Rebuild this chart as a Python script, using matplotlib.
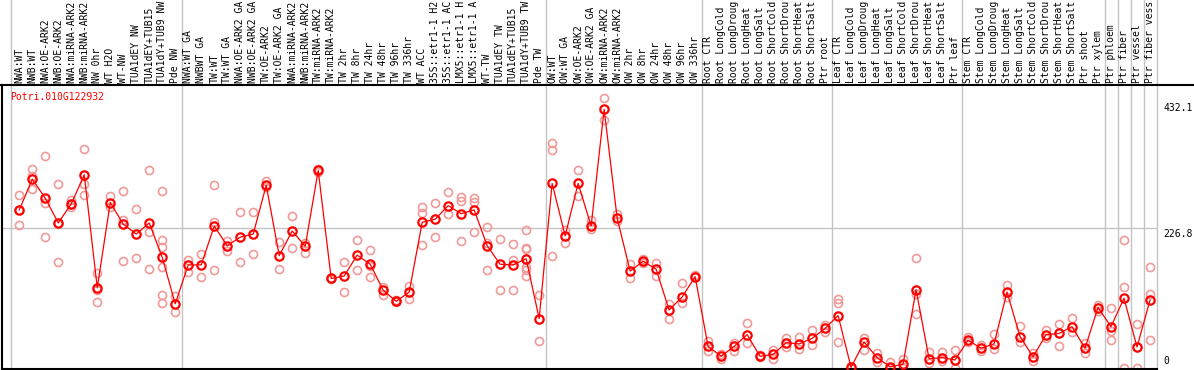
import numpy as np
import matplotlib
matplotlib.use('Agg')
import matplotlib.pyplot as plt
from matplotlib.lines import Line2D

gene = "Potri.010G122932"

labels = [
    "NWA:WT", "NWB:WT", "NWA:OE-ARK2", "NWB:OE-ARK2", "NWA:miRNA-ARK2", "NWB:miRNA-ARK2",
    "NW 0hr", "WT H2O", "WT-NW", "TUA1dEY NW", "TUA1dEY+TUB15", "TUA1dY+TUB9 NW", "Pde NW",
    "NWA:WT GA", "NWBWT GA", "TW:WT", "TW:WT GA", "NWA:OE-ARK2 GA", "NWB:OE-ARK2 GA",
    "TW:OE-ARK2", "TW:OE-ARK2 GA", "NWA:miRNA-ARK2", "NWB:miRNA-ARK2", "TW:miRNA-ARK2",
    "TW:miRNA-ARK2", "TW 2hr", "TW 8hr", "TW 24hr", "TW 48hr", "TW 96hr", "TW 336hr",
    "WT ACC", "35S::etr1-1 H2", "35S::etr1-1 AC", "LMX5::etr1-1 H", "LMX5::etr1-1 A",
    "WT-TW", "TUA1dEY TW", "TUA1dEY+TUB15", "TUA1dY+TUB9 TW", "Pde TW",
    "OW:WT", "OW:WT GA", "OW:OE-ARK2", "OW:OE-ARK2 GA", "OW:miRNA-ARK2", "OW:miRNA-ARK2",
    "OW 2hr", "OW 8hr", "OW 24hr", "OW 48hr", "OW 96hr", "OW 336hr",
    "Root CTR", "Root LongCold", "Root LongDroug", "Root LongHeat", "Root LongSalt",
    "Root ShortCold", "Root ShortDrou", "Root ShortHeat", "Root ShortSalt", "Ptr root",
    "Leaf CTR", "Leaf LongCold", "Leaf LongDroug", "Leaf LongHeat", "Leaf LongSalt",
    "Leaf ShortCold", "Leaf ShortDrou", "Leaf ShortHeat", "Leaf ShortSalt", "Ptr leaf",
    "Stem CTR", "Stem LongCold", "Stem LongDroug", "Stem LongHeat", "Stem LongSalt",
    "Stem ShortCold", "Stem ShortDrou", "Stem ShortHeat", "Stem ShortSalt", "Ptr shoot",
    "Ptr xylem", "Ptr phloem", "Ptr fiber", "Ptr vessel", "Ptr fiber vess",
]

# mean expression per sample (line)
means = [256, 306, 275, 235, 266, 313, 130, 268, 233, 217, 235, 179, 104,
         167, 167, 230, 198, 212, 217, 296, 182, 222, 197, 320, 145, 149, 183, 168,
         126, 108, 123, 236, 241, 263, 250, 256, 198, 168, 167, 177, 80,
         299, 214, 299, 230, 419, 243, 157, 173, 160, 94, 115, 148,
         35, 19, 35, 54, 19, 22, 41, 39, 48, 64,
         85, 1, 42, 17, 2, 6, 127, 15, 17, 13,
         45, 32, 39, 123, 51, 18, 54, 56, 67, 32, 98,
         67, 113, 34, 110]

# replicate values
reps = [
    [280, 256, 231], [322, 311, 290], [343, 268, 212], [298, 235, 172], [272, 266, 260],
    [355, 298, 281], [154, 126, 107], [279, 261], [287, 240, 174], [258, 178],
    [321, 220, 161], [287, 207, 196, 164, 118, 105], [116, 90],
    [175, 156], [185, 147], [296, 237, 158], [205, 190], [253, 172], [253, 184],
    [303, 293], [204, 160], [247, 194], [203, 187], [323, 317], [146, 144],
    [171, 123], [207, 158], [191, 166, 147], [132, 119], [110, 107], [133, 111],
    [261, 251, 199], [267, 212], [285, 249], [277, 270, 205], [275, 269, 221],
    [229, 202, 158], [209, 126], [201, 175, 126], [223, 195, 192, 164, 159, 149], [118, 43],
    [364, 353, 181], [223, 202], [321, 279], [240, 225], [437, 402], [250, 238],
    [168, 145], [176, 170], [170, 149], [103, 79], [137, 105], [150, 147],
    [44, 27], [23, 14], [41, 28], [73, 40], [21, 18], [29, 14], [48, 34], [50, 30],
    [61, 37], [69, 58],
    [111, 106, 42], [1, 0], [49, 29], [24, 9], [10, 0], [14, 0], [178, 120, 87],
    [26, 8], [26, 12], [29, 0],
    [50, 42], [37, 27], [55, 30], [134, 115], [68, 42], [25, 12], [62, 48], [71, 35],
    [81, 58], [40, 25], [102, 93],
    [97, 60, 45], [207, 132, 0], [71, 0], [163, 120, 45],
]

yticks = [432.1, 226.8]
group_bounds = [-0.65, 12.5, 40.5, 52.5, 62.5, 72.5, 83.5, 84.5, 85.5, 86.5, 87.5]

plt.rcParams['font.family'] = 'DejaVu Sans Mono'
plt.rcParams['font.size'] = 7

W, H = 1194, 370
fig = plt.figure(figsize=(W / 100, H / 100), dpi=100)
ax = fig.add_axes([2 / W, 1 / H, 1154.5 / W, 284 / H])

x = np.arange(len(labels))
ax.set_xlim(-1.33, 87.5)
ax.set_ylim(-1.6, 458.4)

# grid
ax.axhline(yticks[1], color='#c4c4c4', lw=1, zorder=0)
for b in group_bounds:
    ax.axvline(b, ymin=0, ymax=369 / 284, color='#c4c4c4', lw=1, zorder=0, clip_on=False)

for i, r in enumerate(reps):
    ax.plot([i] * len(r), r, 'o', mfc='none', mec='#f09a9a', ms=5.8, mew=1.2, zorder=2)
ax.plot(x, means, '-', color='red', lw=0.9, zorder=3)
ax.plot(x, means, 'o', mfc='none', mec='red', ms=6, mew=1.6, zorder=4)

for i, lab in enumerate(labels):
    ax.annotate(lab, xy=(i, 1), xycoords=('data', 'axes fraction'),
                xytext=(0, 1.2), textcoords='offset points',
                rotation=90, ha='center', va='bottom', color='black', annotation_clip=False)

for v in yticks:
    ax.annotate(f"{v}", xy=(1, v), xycoords=('axes fraction', 'data'),
                xytext=(5, -1), textcoords='offset points', ha='left', va='top',
                annotation_clip=False)
ax.annotate("0", xy=(1, 0), xycoords=('axes fraction', 'data'),
            xytext=(5, 1.5), textcoords='offset points', ha='left', va='bottom',
            annotation_clip=False)

ax.text(10 / W, 1 - 97 / H, gene, color='red', ha='left', va='center', transform=fig.transFigure)

for s in ['top', 'right']:
    ax.spines[s].set_visible(False)
ax.spines['left'].set_linewidth(1.5)
ax.spines['bottom'].set_linewidth(1.5)
ax.set_xticks([])
ax.set_yticks([])

fig.add_artist(Line2D([0, 1], [1 - 85 / H] * 2, color='black', lw=1.5, transform=fig.transFigure))

fig.savefig('out.png', dpi=100)
